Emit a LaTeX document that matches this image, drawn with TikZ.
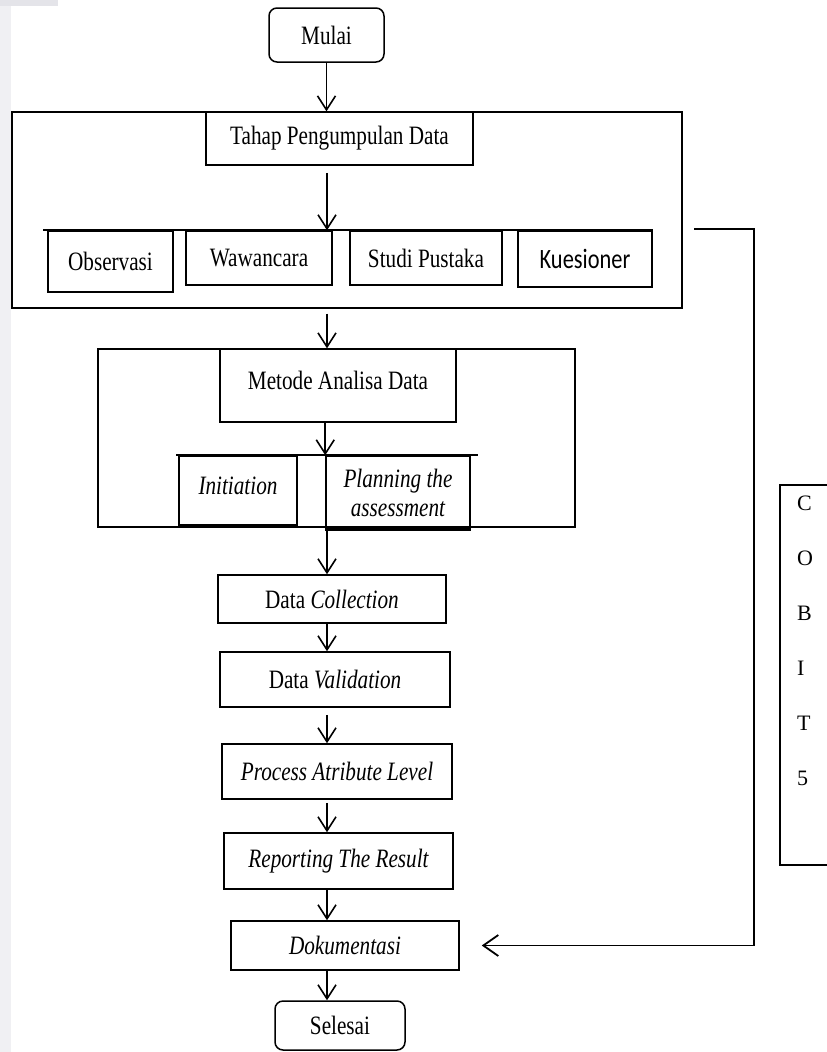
\documentclass[tikz,border=0pt]{standalone}
\usepackage{fontspec}
\setmainfont{Liberation Serif}[FakeStretch=0.8]
\newfontfamily\calib{Carlito}[FakeStretch=0.8]
\newfontfamily\plainserif{Liberation Serif}
\usetikzlibrary{arrows.meta,calc}
\definecolor{stripgrey}{RGB}{240,240,243}
\definecolor{topgrey}{RGB}{228,228,233}
\tikzset{
  box/.style={draw, line width=1.5pt, inner sep=0pt, font=\fontsize{26.5pt}{29pt}\selectfont, align=center},
  roundbox/.style={box, rounded corners=8pt},
  frame/.style={draw, line width=1.3pt, inner sep=0pt},
  txt/.style={inner sep=0pt, font=\fontsize{26.5pt}{29pt}\selectfont, align=center},
  arr/.style={-{Straight Barb[length=14pt,width=18pt]}, line width=1.6pt},
  rowline/.style={line width=1.7pt},
}
\begin{document}
\begin{tikzpicture}[x=1pt,y=-1pt]
\useasboundingbox (0,0) rectangle (827,1052);
\fill[white] (0,0) rectangle (827,1052);
\fill[stripgrey] (0,0) rectangle (11,1052);
\fill[topgrey] (0,0) rectangle (58,6);

% spine of the main flow
\coordinate (spine) at (327,0);

% start
\node[roundbox, minimum width=115pt, minimum height=54pt] (mulai) at (326.5,35) {Mulai};

% data collection stage
\node[frame, minimum width=670pt, minimum height=196pt] (outer1) at (347,210) {};
\node[box, minimum width=267pt, minimum height=53pt] (tahap) at (339.5,138.5) {Tahap Pengumpulan Data};
\node[box, minimum width=125pt, minimum height=61pt] (obs) at (110.5,261.5) {Observasi};
\node[box, minimum width=146pt, minimum height=54pt] (wawa) at (259,258) {Wawancara};
\node[box, minimum width=152pt, minimum height=54pt] (studi) at (426,258) {Studi Pustaka};
\node[box, minimum width=134pt, minimum height=56pt, font=\calib\fontsize{28pt}{30pt}\selectfont] (kues) at (585,259) {Kuesioner};
\draw[rowline] (obs.north west) ++(-4,0) coordinate (row1a) -- (kues.north east);

% analysis method stage
\node[frame, minimum width=477pt, minimum height=178pt] (mout) at (336.5,438) {};
\node[box, minimum width=236pt, minimum height=73pt] (metode) at (338,385.5) {};
\node[txt] (metodeT) at (338,380) {Metode Analisa Data};
\node[box, minimum width=118pt, minimum height=69pt] (init) at (238,490.5) {};
\node[txt] (initT) at (238,486) {\itshape Initiation};
\node[box, minimum width=144pt, minimum height=73pt] (plan) at (398,492.5) {\itshape Planning the\\\itshape assessment};
\draw[rowline] (init.north west) ++(-2,0) coordinate (row2a) -- ($(plan.north east)+(7,0)$) coordinate (row2b);
\draw[line width=2.4pt] (init.south west) -- (init.south east);
\draw[line width=2.4pt] (plan.south west) -- (plan.south east);

% assessment steps
\node[box, minimum width=228pt, minimum height=48pt] (dc) at (332,599) {Data \textit{Collection}};
\node[box, minimum width=230pt, minimum height=55pt] (dv) at (335,679.5) {Data \textit{Validation}};
\node[box, minimum width=230pt, minimum height=55pt] (pr) at (337,771.5) {\itshape Process Atribute Level};
\node[box, minimum width=229pt, minimum height=56pt] (rp) at (338.5,861) {\itshape Reporting The Result};
\node[box, minimum width=228pt, minimum height=49pt] (dk) at (345,945.5) {\itshape Dokumentasi};
\node[roundbox, minimum width=130pt, minimum height=49pt] (sl) at (340,1025.5) {Selesai};

% COBIT 5 side panel
\draw[line width=1.3pt] (830,485) -- (780,485) -- (780,865) -- (830,865);
\node[inner sep=0pt, anchor=north west, align=left,
      font=\plainserif\fontsize{22pt}{55pt}\selectfont] (cobit) at (797,496) {C\\O\\B\\I\\T\\5};

% main flow connectors
\draw[arr] (mulai.south) -- (mulai.south |- outer1.north);
\draw[arr, shorten <=7pt] (spine |- tahap.south) -- (spine |- wawa.north);
\draw[arr, shorten <=5pt] (spine |- outer1.south) -- (spine |- mout.north);
\draw[arr] (metode.south -| plan.west) -- (plan.north west);
\draw[arr, shorten <=3pt] (spine |- mout.south) -- (spine |- dc.north);
\draw[arr] (spine |- dc.south) -- (spine |- dv.north);
\draw[arr, shorten <=7pt] (spine |- dv.south) -- (spine |- pr.north);
\draw[arr, shorten <=3pt] (spine |- pr.south) -- (spine |- rp.north);
\draw[arr] (spine |- rp.south) -- (spine |- dk.north);
\draw[arr] (spine |- dk.south) -- (spine |- sl.north);

% return line to the documentation step
\coordinate (sideA) at (694,229);
\coordinate (sideB) at (754,229);
\draw[-{Straight Barb[length=15pt,width=21pt]}, line width=1.8pt, shorten >=22pt]
  (sideA) -- (sideB) |- (dk.east);
\end{tikzpicture}
\end{document}
